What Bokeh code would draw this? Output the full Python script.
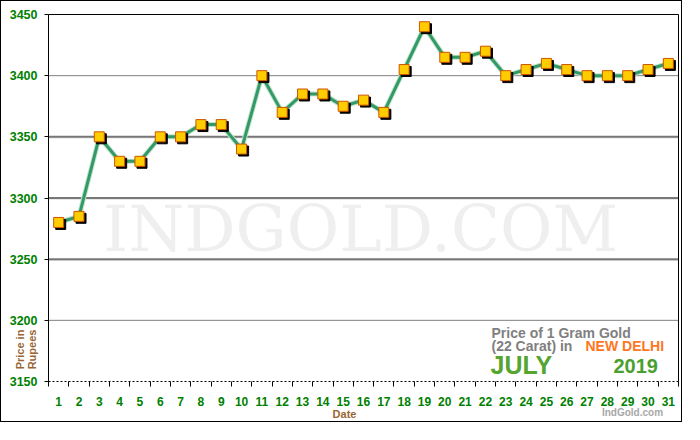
import numpy as np
from bokeh.plotting import figure
from bokeh.models import Range1d, FixedTicker, Label, ColumnDataSource
from bokeh.transform import dodge
from bokeh.core.properties import value
from bokeh.embed import file_html
from bokeh.resources import INLINE

# ---- data ----
days = list(range(1, 32))
prices = [3280, 3285, 3350, 3330, 3330, 3350, 3350, 3360, 3360, 3340,
          3400, 3370, 3385, 3385, 3375, 3380, 3370, 3405, 3440, 3415,
          3415, 3420, 3400, 3405, 3410, 3405, 3400, 3400, 3400, 3405, 3410]
y_ticks = [3150, 3200, 3250, 3300, 3350, 3400, 3450]
dotted_lines = [3200, 3400]
gray_lines = [3250, 3300, 3350]
x_labels = [str(d) for d in days]

FONT = "Liberation Sans"
GREEN = "#008000"
BROWN = "#996633"

# ---- layout (pixels of the 700x440 picture) ----
W, H = 682, 422
OX, OY = 8, 13
FRAME_L, FRAME_T, FRAME_W, FRAME_H = 55, 26, 630, 367
x0, x1 = days[0] - 0.5, days[-1] + 0.5
y0, y1 = y_ticks[0], y_ticks[-1]
pxu = FRAME_W / (x1 - x0)
pyu = FRAME_H / (y1 - y0)
x_lo = x0 - (FRAME_L - OX) / pxu
y_hi = y1 + (FRAME_T - OY) / pyu


def X(px):
    return x_lo + (px - OX) / pxu


def Y(py):
    return y_hi - (py - OY) / pyu


src = ColumnDataSource(dict(day=days, price=prices))

p = figure(width=W, height=H, output_backend="svg", toolbar_location=None,
           x_range=Range1d(x_lo, x_lo + W / pxu),
           y_range=Range1d(y_hi - H / pyu, y_hi),
           min_border=0, background_fill_color="white",
           border_fill_color="white", outline_line_color=None)
p.styles = {"border": "1px solid black"}
p.xgrid.visible = False
p.ygrid.visible = False

# axes, drawn at fixed data locations so they take no side space
p.xaxis.fixed_location = y0
p.xaxis.bounds = (x0, x1)
p.xaxis.ticker = FixedTicker(ticks=days, minor_ticks=[d + 0.5 for d in [0] + days])
p.xaxis.major_label_overrides = {d: s for d, s in zip(days, x_labels)}
p.xaxis.major_tick_out = 0
p.xaxis.major_tick_in = 0
p.xaxis.minor_tick_out = 5
p.xaxis.minor_tick_in = 0
p.xaxis.minor_tick_line_color = "black"
p.xaxis.axis_line_color = "black"
p.xaxis.axis_line_dash = "2 2"
p.xaxis.major_label_standoff = 10
p.xaxis.major_label_text_font = FONT
p.xaxis.major_label_text_font_style = "bold"
p.xaxis.major_label_text_font_size = "12px"
p.xaxis.major_label_text_color = GREEN

p.yaxis.fixed_location = x0
p.yaxis.bounds = (y0, y1)
p.yaxis.ticker = FixedTicker(ticks=y_ticks, minor_ticks=[])
p.yaxis.major_tick_out = 4
p.yaxis.major_tick_in = 0
p.yaxis.major_tick_line_color = "black"
p.yaxis.axis_line_color = "black"
p.yaxis.major_label_standoff = 7
p.yaxis.major_label_text_font = FONT
p.yaxis.major_label_text_font_style = "bold"
p.yaxis.major_label_text_font_size = "12.5px"
p.yaxis.major_label_text_color = GREEN

# watermark
p.text(x=[X(367)], y=[Y(240)], text=["INDGOLD.COM"], text_font=value("DejaVu Serif"),
       text_font_size="64px", text_color="#efefef", text_align="center",
       text_baseline="middle")

# grid lines
n = len(gray_lines)
p.segment(x0=[x0] * n, x1=[x1] * n, y0=[v - 0.8 for v in gray_lines],
          y1=[v - 0.8 for v in gray_lines], line_color="#d0d0d0", line_width=1)
p.segment(x0=[x0] * n, x1=[x1] * n, y0=gray_lines, y1=gray_lines,
          line_color="#777777", line_width=2)
m = len(dotted_lines)
p.segment(x0=[x0] * m, x1=[x1] * m, y0=dotted_lines, y1=dotted_lines,
          line_color="black", line_width=1, line_dash="1 1")
# top and right frame lines
p.segment(x0=[x0, x1], x1=[x1, x1], y0=[y1, y0], y1=[y1, y1],
          line_color="black", line_width=1)

# series
p.line("day", "price", source=src, line_color="#bfe3cc", line_width=5)
p.line("day", "price", source=src, line_color="#339966", line_width=3)
p.scatter(dodge("day", 0.1), dodge("price", -1.6), source=src, marker="square",
          size=10, fill_color="black", line_color="black")
p.scatter("day", "price", source=src, marker="square", size=10,
          fill_color="#FFCC00", line_color="#CC5500", line_width=1)


# labels
def lab(px, py, t, size, color, align="left", angle=0.0, font=FONT):
    p.add_layout(Label(x=X(px), y=Y(py), text=t, text_font=font, text_font_size=size,
                       text_font_style="bold", text_color=color, text_align=align,
                       text_baseline="middle", angle=angle))


lab(26, 361, "Price in", "11px", BROWN, "center", np.pi / 2)
lab(38.5, 361, "Rupees", "11px", BROWN, "center", np.pi / 2)
lab(351, 425, "Date", "11px", BROWN, "center")
lab(639, 424, "IndGold.com", "10px", "#a8a8a8", "center")
lab(498, 344, "Price of 1 Gram Gold", "14px", "#808080")
lab(498, 357, "(22 Carat) in", "14px", "#808080")
lab(592, 357, "NEW DELHI", "14px", "#FF7722")
lab(497, 376, "JULY", "25px", "#55a530")
lab(620, 377, "2019", "20px", "#48a030")

open("out.html", "w").write(file_html(p, INLINE))
